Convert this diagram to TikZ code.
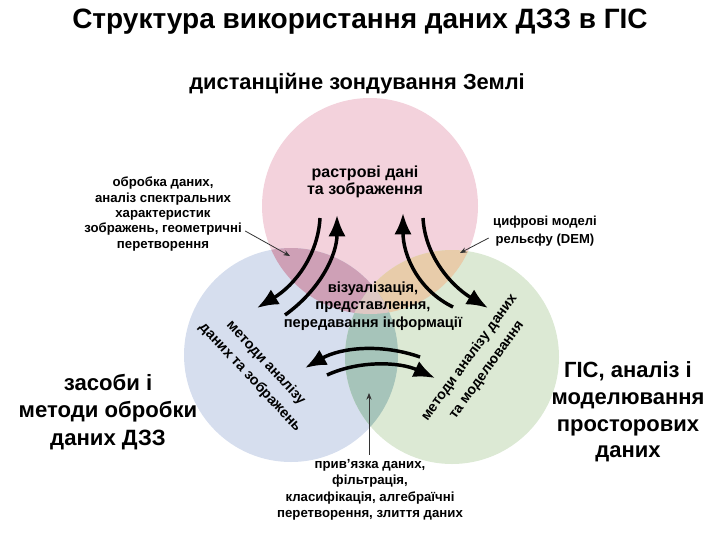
\documentclass[tikz,border=0pt]{standalone}
\usepackage{fontspec}
\setmainfont{Liberation Sans}
\usepackage{tikz}
\usetikzlibrary{arrows.meta}
\tikzset{every picture/.style={line width=0.75pt}}

\definecolor{rsPink}{RGB}{243,210,220}
\definecolor{rsBlue}{RGB}{214,222,238}
\definecolor{rsGreen}{RGB}{220,233,212}
\definecolor{rsPinkBlue}{RGB}{206,160,182}
\definecolor{rsPinkGreen}{RGB}{232,204,170}
\definecolor{rsBlueGreen}{RGB}{166,196,186}
\definecolor{rsCentre}{RGB}{222,200,196}

\tikzset{
  txt/.style={align=center,font=\bfseries,inner sep=0pt},
  bigarrow/.style={line width=2.6pt,-{Latex[length=16pt,width=13pt]}},
  thinarrow/.style={line width=0.6pt,draw=black!80,-{Stealth[length=5pt,width=4pt]}}
}

\begin{document}
\begin{tikzpicture}[x=0.75pt,y=0.75pt,yscale=-1,xscale=1]
		\useasboundingbox (0,0) rectangle (720,540);
		
		%Circles
		\fill[rsPink] (370,206) circle (108);
		\fill[rsBlue] (291,355) circle (107);
		\fill[rsGreen] (452,357) circle (107);
		%Overlaps
		\begin{scope}
			\clip (370,206) circle (108);
			\fill[rsPinkBlue] (291,355) circle (107);
			\fill[rsPinkGreen] (452,357) circle (107);
		\end{scope}
		\begin{scope}
			\clip (291,355) circle (107);
			\fill[rsBlueGreen] (452,357) circle (107);
		\end{scope}
		\begin{scope}
			\clip (370,206) circle (108);
			\clip (291,355) circle (107);
			\fill[rsCentre] (452,357) circle (107);
		\end{scope}
		
		% Text Node
		\node[txt,font=\bfseries\fontsize{21}{24}\selectfont] (title) at (360,22) {Структура використання даних ДЗЗ в ГІС};
		% Text Node
		\node[txt,font=\bfseries\fontsize{16.4}{19}\selectfont] (rs) at (357,84) {дистанційне зондування Землі};
		% Text Node
		\node[txt,font=\bfseries\fontsize{12}{12.5}\selectfont] (raster) at (365,182) {растрові дані\\та зображення};
		% Text Node
		\node[txt,font=\bfseries\fontsize{9.9}{11.6}\selectfont] (proc) at (163,214) {обробка даних,\\аналіз спектральних\\характеристик\\зображень, геометричні\\перетворення};
		% Text Node
		\node[txt,font=\bfseries\fontsize{9.8}{13}\selectfont] (dem) at (545,231) {цифрові моделі\\рельєфу (DEM)};
		% Text Node
		\node[txt,font=\bfseries\fontsize{11}{13}\selectfont] (vis) at (373,306) {візуалізація,\\представлення,\\передавання інформації};
		% Text Node
		\node[txt,font=\bfseries\fontsize{9.9}{12.4}\selectfont] (link) at (370,490) {прив'язка даних,\\фільтрація,\\класифікація, алгебраїчні\\перетворення, злиття даних};
		% Text Node
		\node[txt,font=\bfseries\fontsize{16.6}{20.6}\selectfont] (dzz) at (108,412) {засоби і\\методи обробки\\даних ДЗЗ};
		% Text Node
		\node[txt,font=\bfseries\fontsize{16.5}{20}\selectfont] (gis) at (628,412) {ГІС, аналіз і\\моделювання\\просторових\\даних};
		% Text Node
		\node[txt,font=\bfseries\fontsize{10.8}{16}\selectfont,rotate=-47] (lmeth) at (258,370) {методи аналізу\\даних та зображень};
		% Text Node
		\node[txt,font=\bfseries\fontsize{10.6}{16}\selectfont,rotate=54] (rmeth) at (478,364) {методи аналізу даних\\та моделювання};
		
		%Pointers
		\coordinate (procTip) at (290,256);
		\coordinate (demTip) at (460,253);
		\coordinate (linkTip) at (369,393);
		\draw[thinarrow] (proc.east |- 0,231) ++(3,0) -- (procTip);
		\draw[thinarrow] (dem.west |- 0,238) ++(-4,0) -- (demTip);
		\draw[thinarrow] (link.north) ++(-1,-4) -- (linkTip);
		
		%Thick arrows
		\coordinate (a1s) at (320,218);
		\coordinate (a1e) at (257,308);
		\coordinate (a2s) at (285,315);
		\coordinate (a2e) at (337,215);
		\coordinate (a3s) at (453,307);
		\coordinate (a3e) at (403,213);
		\coordinate (a4s) at (423,218);
		\coordinate (a4e) at (488,308);
		\coordinate (a5s) at (420,357);
		\coordinate (a5e) at (305,368);
		\coordinate (a6s) at (327,375);
		\coordinate (a6e) at (435,378);
		\draw[bigarrow] (a1s) .. controls (318,255) and (295,285) .. (a1e);
		\draw[bigarrow] (a2s) .. controls (320,290) and (337,255) .. (a2e);
		\draw[bigarrow] (a3s) .. controls (418,290) and (403,255) .. (a3e);
		\draw[bigarrow] (a4s) .. controls (425,255) and (450,285) .. (a4e);
		\draw[bigarrow] (a5s) .. controls (380,343) and (340,348) .. (a5e);
		\draw[bigarrow] (a6s) .. controls (360,360) and (400,362) .. (a6e);
		
\end{tikzpicture}
\end{document}
